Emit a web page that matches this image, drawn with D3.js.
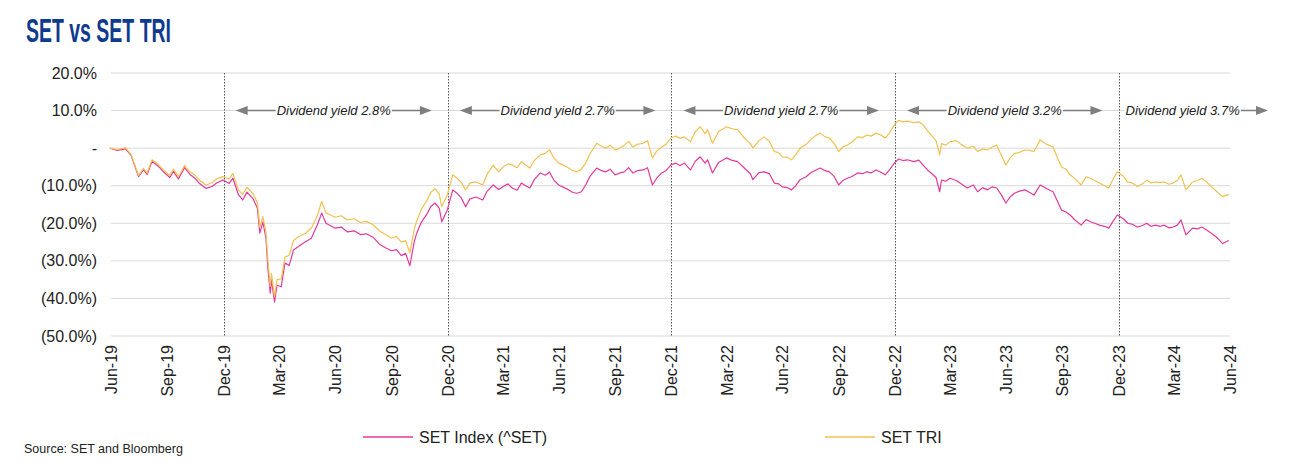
<!DOCTYPE html>
<html>
<head>
<meta charset="utf-8">
<script src="https://cdn.jsdelivr.net/npm/d3@7"></script>
<style>
body { margin: 0; background: #fff; }
svg { display: block; font-family: Arial, "Liberation Sans", sans-serif; }
</style>
</head>
<body>
<svg id="chart" width="1290" height="462"></svg>
<script>
// --- data (% change since end of Jun-19) ---
const dates = [
  "2019-06-28","2019-07-10","2019-07-24","2019-08-02","2019-08-14","2019-08-22","2019-08-28","2019-09-05","2019-09-15","2019-09-25","2019-10-04","2019-10-10","2019-10-18","2019-10-28","2019-11-06","2019-11-14","2019-11-22","2019-12-02","2019-12-12","2019-12-20","2019-12-30",
  "2020-01-09","2020-01-15","2020-01-24","2020-01-31","2020-02-07","2020-02-17","2020-02-24","2020-02-28","2020-03-04","2020-03-09","2020-03-12","2020-03-16","2020-03-18","2020-03-23","2020-03-27","2020-04-03","2020-04-09","2020-04-16","2020-04-23","2020-05-01","2020-05-12","2020-05-22","2020-06-01","2020-06-08","2020-06-15","2020-06-30","2020-07-10","2020-07-20","2020-07-31","2020-08-10","2020-08-20","2020-08-31","2020-09-10","2020-09-20","2020-09-30","2020-10-08","2020-10-16","2020-10-23","2020-10-30","2020-11-06","2020-11-10","2020-11-18","2020-11-27","2020-12-03","2020-12-10","2020-12-17","2020-12-21","2020-12-30",
  "2021-01-08","2021-01-15","2021-01-22","2021-01-29","2021-02-05","2021-02-15","2021-02-26","2021-03-05","2021-03-15","2021-03-24","2021-03-31","2021-04-08","2021-04-15","2021-04-23","2021-04-30","2021-05-07","2021-05-14","2021-05-21","2021-05-31","2021-06-08","2021-06-15","2021-06-22","2021-06-30","2021-07-09","2021-07-16","2021-07-23","2021-07-30","2021-08-06","2021-08-13","2021-08-20","2021-08-31","2021-09-08","2021-09-15","2021-09-22","2021-09-30","2021-10-08","2021-10-15","2021-10-22","2021-10-29","2021-11-05","2021-11-15","2021-11-22","2021-11-30","2021-12-07","2021-12-15","2021-12-22","2021-12-30",
  "2022-01-07","2022-01-14","2022-01-21","2022-01-31","2022-02-08","2022-02-16","2022-02-24","2022-02-28","2022-03-08","2022-03-18","2022-03-31","2022-04-08","2022-04-18","2022-04-29","2022-05-09","2022-05-13","2022-05-23","2022-05-31","2022-06-09","2022-06-17","2022-06-24","2022-06-30","2022-07-08","2022-07-15","2022-07-22","2022-07-29","2022-08-08","2022-08-15","2022-08-24","2022-08-31","2022-09-08","2022-09-15","2022-09-23","2022-09-30","2022-10-07","2022-10-14","2022-10-21","2022-10-31","2022-11-08","2022-11-15","2022-11-22","2022-11-30","2022-12-08","2022-12-15","2022-12-22","2022-12-30",
  "2023-01-06","2023-01-13","2023-01-20","2023-01-31","2023-02-08","2023-02-15","2023-02-22","2023-02-28","2023-03-08","2023-03-14","2023-03-17","2023-03-24","2023-03-31","2023-04-10","2023-04-18","2023-04-28","2023-05-08","2023-05-15","2023-05-23","2023-05-31","2023-06-08","2023-06-15","2023-06-23","2023-06-30","2023-07-07","2023-07-14","2023-07-21","2023-07-31","2023-08-08","2023-08-15","2023-08-25","2023-09-05","2023-09-15","2023-09-22","2023-09-29","2023-10-06","2023-10-13","2023-10-20","2023-10-31","2023-11-08","2023-11-15","2023-11-22","2023-11-30","2023-12-08","2023-12-15","2023-12-22","2023-12-29",
  "2024-01-08","2024-01-15","2024-01-23","2024-01-31","2024-02-08","2024-02-15","2024-02-22","2024-02-29","2024-03-08","2024-03-15","2024-03-22","2024-03-29","2024-04-05","2024-04-11","2024-04-19","2024-04-30","2024-05-08","2024-05-15","2024-05-23","2024-05-31","2024-06-10","2024-06-18","2024-06-28"
];

const setIndex = [
  0,-0.6,-0.2,-2.0,-7.6,-5.8,-7.0,-3.5,-4.8,-6.5,-7.8,-6.2,-8.2,-5.2,-7.0,-8.0,-9.5,-10.7,-10.2,-9.2,-8.5,
  -9.4,-8.0,-12.4,-13.8,-11.7,-13.5,-16.0,-22.6,-19.6,-24.0,-31.6,-38.6,-35.1,-41.0,-36.5,-36.9,-30.6,-31.2,-27.1,-26.2,-25.0,-24.0,-20.4,-17.3,-20.0,-21.3,-21.0,-22.3,-22.0,-23.0,-22.8,-23.7,-25.5,-26.5,-27.3,-27.0,-28.6,-28.0,-31.3,-25.0,-22.7,-19.6,-17.5,-15.6,-14.6,-16.0,-19.6,-16.5,
  -11.1,-12.0,-13.3,-15.6,-13.5,-13.0,-13.8,-11.5,-9.8,-11.0,-10.3,-9.5,-10.6,-11.2,-9.3,-10.0,-10.6,-8.4,-6.6,-7.2,-6.4,-8.5,-9.8,-10.5,-11.1,-11.8,-12.0,-11.6,-9.8,-7.5,-5.3,-6.0,-6.3,-5.6,-7.1,-6.6,-6.3,-5.2,-6.6,-6.0,-5.8,-5.2,-9.8,-8.0,-6.6,-6.0,-4.5,
  -4.0,-4.6,-4.0,-5.8,-3.5,-2.3,-4.0,-3.1,-6.6,-3.8,-2.6,-3.2,-3.6,-5.3,-6.8,-8.4,-6.5,-6.3,-6.8,-9.3,-9.5,-10.3,-10.5,-11.1,-10.0,-8.4,-7.6,-6.6,-5.8,-5.3,-6.0,-6.3,-7.6,-9.8,-8.6,-8.0,-7.6,-6.6,-6.8,-6.3,-6.6,-5.8,-6.4,-7.1,-5.8,-4.0,
  -2.9,-3.3,-3.1,-3.6,-3.2,-4.5,-5.8,-6.6,-7.8,-11.6,-8.5,-8.8,-8.0,-8.6,-9.5,-10.6,-9.8,-11.6,-10.5,-11.1,-10.3,-10.6,-12.5,-14.6,-13.0,-12.0,-11.5,-11.1,-11.8,-12.5,-9.8,-10.8,-11.6,-14.0,-16.5,-17.0,-17.8,-19.0,-20.5,-19.0,-19.6,-20.0,-20.5,-20.8,-21.3,-19.5,-17.8,
  -18.8,-20.0,-20.3,-21.0,-20.6,-20.0,-20.8,-20.5,-20.8,-20.5,-21.2,-21.0,-20.5,-19.1,-23.1,-21.3,-21.5,-21.0,-21.8,-22.7,-24.0,-25.4,-24.6
];

const setTri = [
  0,-0.4,0.1,-1.8,-7.3,-5.4,-6.6,-3.1,-4.3,-6.0,-7.2,-5.6,-7.6,-4.6,-6.3,-7.2,-8.6,-9.8,-9.2,-8.1,-7.6,
  -8.2,-6.7,-11.1,-12.3,-10.4,-12.2,-14.5,-21.0,-18.2,-22.5,-29.5,-36.8,-33.3,-39.6,-35.0,-34.8,-29.0,-28.5,-24.6,-23.6,-22.7,-21.3,-17.9,-14.2,-17.2,-18.4,-18.0,-19.1,-18.8,-19.8,-19.5,-20.4,-22.0,-23.0,-24.0,-23.5,-25.0,-24.6,-27.9,-21.6,-19.5,-16.2,-13.9,-11.8,-10.8,-12.3,-15.6,-12.5,
  -7.1,-8.0,-9.2,-11.1,-9.3,-9.0,-9.8,-7.0,-4.5,-6.3,-5.0,-4.2,-4.5,-5.2,-3.6,-4.5,-5.3,-3.3,-1.8,-1.4,-0.5,-2.6,-4.0,-4.6,-5.3,-6.0,-6.3,-5.6,-4.0,-1.5,1.3,0.5,0.0,0.8,-0.5,0.0,0.8,1.8,0.3,1.0,1.3,2.0,-2.6,-0.8,0.3,1.0,2.7,
  3.2,2.6,3.0,1.7,4.4,5.7,3.8,4.9,1.3,4.4,5.7,5.2,4.9,2.7,1.2,0.0,2.0,3.0,1.8,-0.9,-1.2,-2.3,-2.4,-3.1,-1.8,0.0,1.0,2.2,3.4,4.0,3.0,2.7,1.2,-0.9,0.3,0.8,1.5,3.0,2.8,3.5,3.2,4.0,3.5,2.7,4.0,6.2,
  7.4,7.0,7.2,6.8,7.0,6.2,4.6,3.5,2.0,-1.8,1.2,0.8,1.7,2.0,1.0,0.0,0.5,-0.9,-0.2,-0.5,0.3,0.8,-2.0,-4.5,-2.6,-1.4,-1.2,-0.5,-0.6,-0.9,2.2,1.0,0.3,-2.5,-5.0,-5.6,-7.1,-8.0,-9.8,-7.6,-8.0,-8.6,-9.3,-10.0,-10.6,-8.3,-6.3,
  -7.5,-9.0,-9.3,-10.3,-9.5,-8.5,-9.3,-9.0,-9.2,-9.0,-9.6,-9.3,-8.6,-7.1,-11.1,-9.0,-8.6,-8.0,-9.0,-10.3,-11.8,-12.9,-12.3
];

const xTickLabels = ["Jun-19","Sep-19","Dec-19","Mar-20","Jun-20","Sep-20","Dec-20","Mar-21","Jun-21","Sep-21","Dec-21",
  "Mar-22","Jun-22","Sep-22","Dec-22","Mar-23","Jun-23","Sep-23","Dec-23","Mar-24","Jun-24"];
const yTicks = [20, 10, 0, -10, -20, -30, -40, -50];
const dividendMarks = ["Dec-19","Dec-20","Dec-21","Dec-22","Dec-23"];
const yieldLabels = ["Dividend yield 2.8%","Dividend yield 2.7%","Dividend yield 2.7%","Dividend yield 3.2%","Dividend yield 3.7%"];
const yieldPeriods = [["Dec-19","Dec-20"],["Dec-20","Dec-21"],["Dec-21","Dec-22"],["Dec-22","Dec-23"],["Dec-23","Jun-24"]];
const seriesNames = ["SET Index (^SET)", "SET TRI"];

// --- setup ---
const svg = d3.select("#chart");
const parseDay = d3.timeParse("%Y-%m-%d");
const parseMonth = d3.timeParse("%b-%y");
// month labels sit on the last day of their month
const monthEnd = s => d3.timeDay.offset(d3.timeMonth.offset(parseMonth(s), 1), -1);

const x = d3.scaleTime()
  .domain([parseDay("2019-06-30"), parseDay("2024-06-30")])
  .range([111, 1230]);
const y = d3.scaleLinear().domain([-50, 20]).range([336, 73]);

const colors = ["#e3399d", "#f0c251"];
const textColor = "#222";

const fmtY = v => {
  if (v === 0) return "-";
  const s = Math.abs(v).toFixed(1) + "%";
  return v < 0 ? `(${s})` : s;
};

// title
svg.append("text")
  .attr("x", 26).attr("y", 42)
  .attr("font-size", 33).attr("font-weight", "bold")
  .attr("fill", "#0e3a8f")
  .attr("textLength", 145).attr("lengthAdjust", "spacingAndGlyphs")
  .text("SET vs SET TRI");

// gridlines
svg.append("g").selectAll("line")
  .data(yTicks).join("line")
  .attr("x1", x.range()[0]).attr("x2", x.range()[1])
  .attr("y1", d => y(d)).attr("y2", d => y(d))
  .attr("stroke", "#d9d9d9").attr("stroke-width", 1);

// y labels
svg.append("g").selectAll("text")
  .data(yTicks).join("text")
  .attr("x", 97).attr("y", d => y(d)).attr("dy", "0.35em")
  .attr("text-anchor", "end").attr("font-size", 16).attr("fill", textColor)
  .text(fmtY);

// x labels (rotated)
svg.append("g").selectAll("text")
  .data(xTickLabels).join("text")
  .attr("transform", d => `translate(${x(monthEnd(d)) + 6},345) rotate(-90)`)
  .attr("text-anchor", "end").attr("font-size", 16).attr("fill", textColor)
  .text(d => d);

// dotted year separators
svg.append("g").selectAll("line")
  .data(dividendMarks).join("line")
  .attr("x1", d => Math.round(x(monthEnd(d))) + 0.5).attr("x2", d => Math.round(x(monthEnd(d))) + 0.5)
  .attr("y1", y(20)).attr("y2", y(-50))
  .attr("stroke", "#555").attr("stroke-width", 1).attr("stroke-dasharray", "1.5,1.5");

// series
const seriesData = [setIndex, setTri].map(vals => dates.map((d, i) => ({ date: parseDay(d), v: vals[i] })));
const line = d3.line().x(d => x(d.date)).y(d => y(d.v));
svg.append("g").selectAll("path")
  .data(seriesData).join("path")
  .attr("d", line)
  .attr("fill", "none")
  .attr("stroke", (d, i) => colors[i])
  .attr("stroke-width", 1.2)
  .attr("stroke-linejoin", "round");

// dividend yield arrows
const arrowY = y(10);
const arrowColor = "#7f7f7f";
const head = (tipX, dir) => {
  const len = 12, hw = 4.5;
  return `M${tipX},${arrowY}L${tipX + dir * len},${arrowY - hw}L${tipX + dir * len},${arrowY + hw}Z`;
};
const ann = svg.append("g");
yieldPeriods.forEach((p, i) => {
  const openEnded = i === yieldPeriods.length - 1;
  const g = ann.append("g");
  const txt = g.append("text")
    .attr("font-size", 13).attr("font-style", "italic").attr("fill", textColor)
    .attr("y", arrowY).attr("dy", "0.35em")
    .text(yieldLabels[i]);
  const tw = txt.node().getComputedTextLength();
  let x0, x1, tx;
  if (!openEnded) {
    x0 = x(monthEnd(p[0])) + 12;
    x1 = x(monthEnd(p[1])) - 16;
    tx = (x0 + x1) / 2 - tw / 2;
  } else {
    tx = x(monthEnd(p[0])) + 7;
    x0 = tx;
    x1 = x(monthEnd(p[1])) + 38;
  }
  txt.attr("x", tx);
  g.insert("line", "text")
    .attr("x1", x0 + (openEnded ? 0 : 6)).attr("x2", x1 - 6)
    .attr("y1", arrowY).attr("y2", arrowY)
    .attr("stroke", arrowColor).attr("stroke-width", 1.5);
  g.insert("rect", "text")
    .attr("x", tx - 1).attr("y", arrowY - 8).attr("width", tw + 2).attr("height", 16)
    .attr("fill", "#fff");
  if (!openEnded) g.append("path").attr("d", head(x0, 1)).attr("fill", arrowColor);
  g.append("path").attr("d", head(x1, -1)).attr("fill", arrowColor);
});

// legend
const legendX = [363, 825];
const legend = svg.append("g").selectAll("g")
  .data(seriesNames).join("g")
  .attr("transform", (d, i) => `translate(${legendX[i]},437)`);
legend.append("line")
  .attr("x1", 0).attr("x2", 50)
  .attr("stroke", (d, i) => colors[i]).attr("stroke-width", 1.5);
legend.append("text")
  .attr("x", 56).attr("dy", "0.35em")
  .attr("font-size", 16).attr("fill", textColor)
  .text(d => d);

// source
svg.append("text")
  .attr("x", 24).attr("y", 453)
  .attr("font-size", 12.5).attr("fill", textColor)
  .text("Source: SET and Bloomberg");
</script>
</body>
</html>
